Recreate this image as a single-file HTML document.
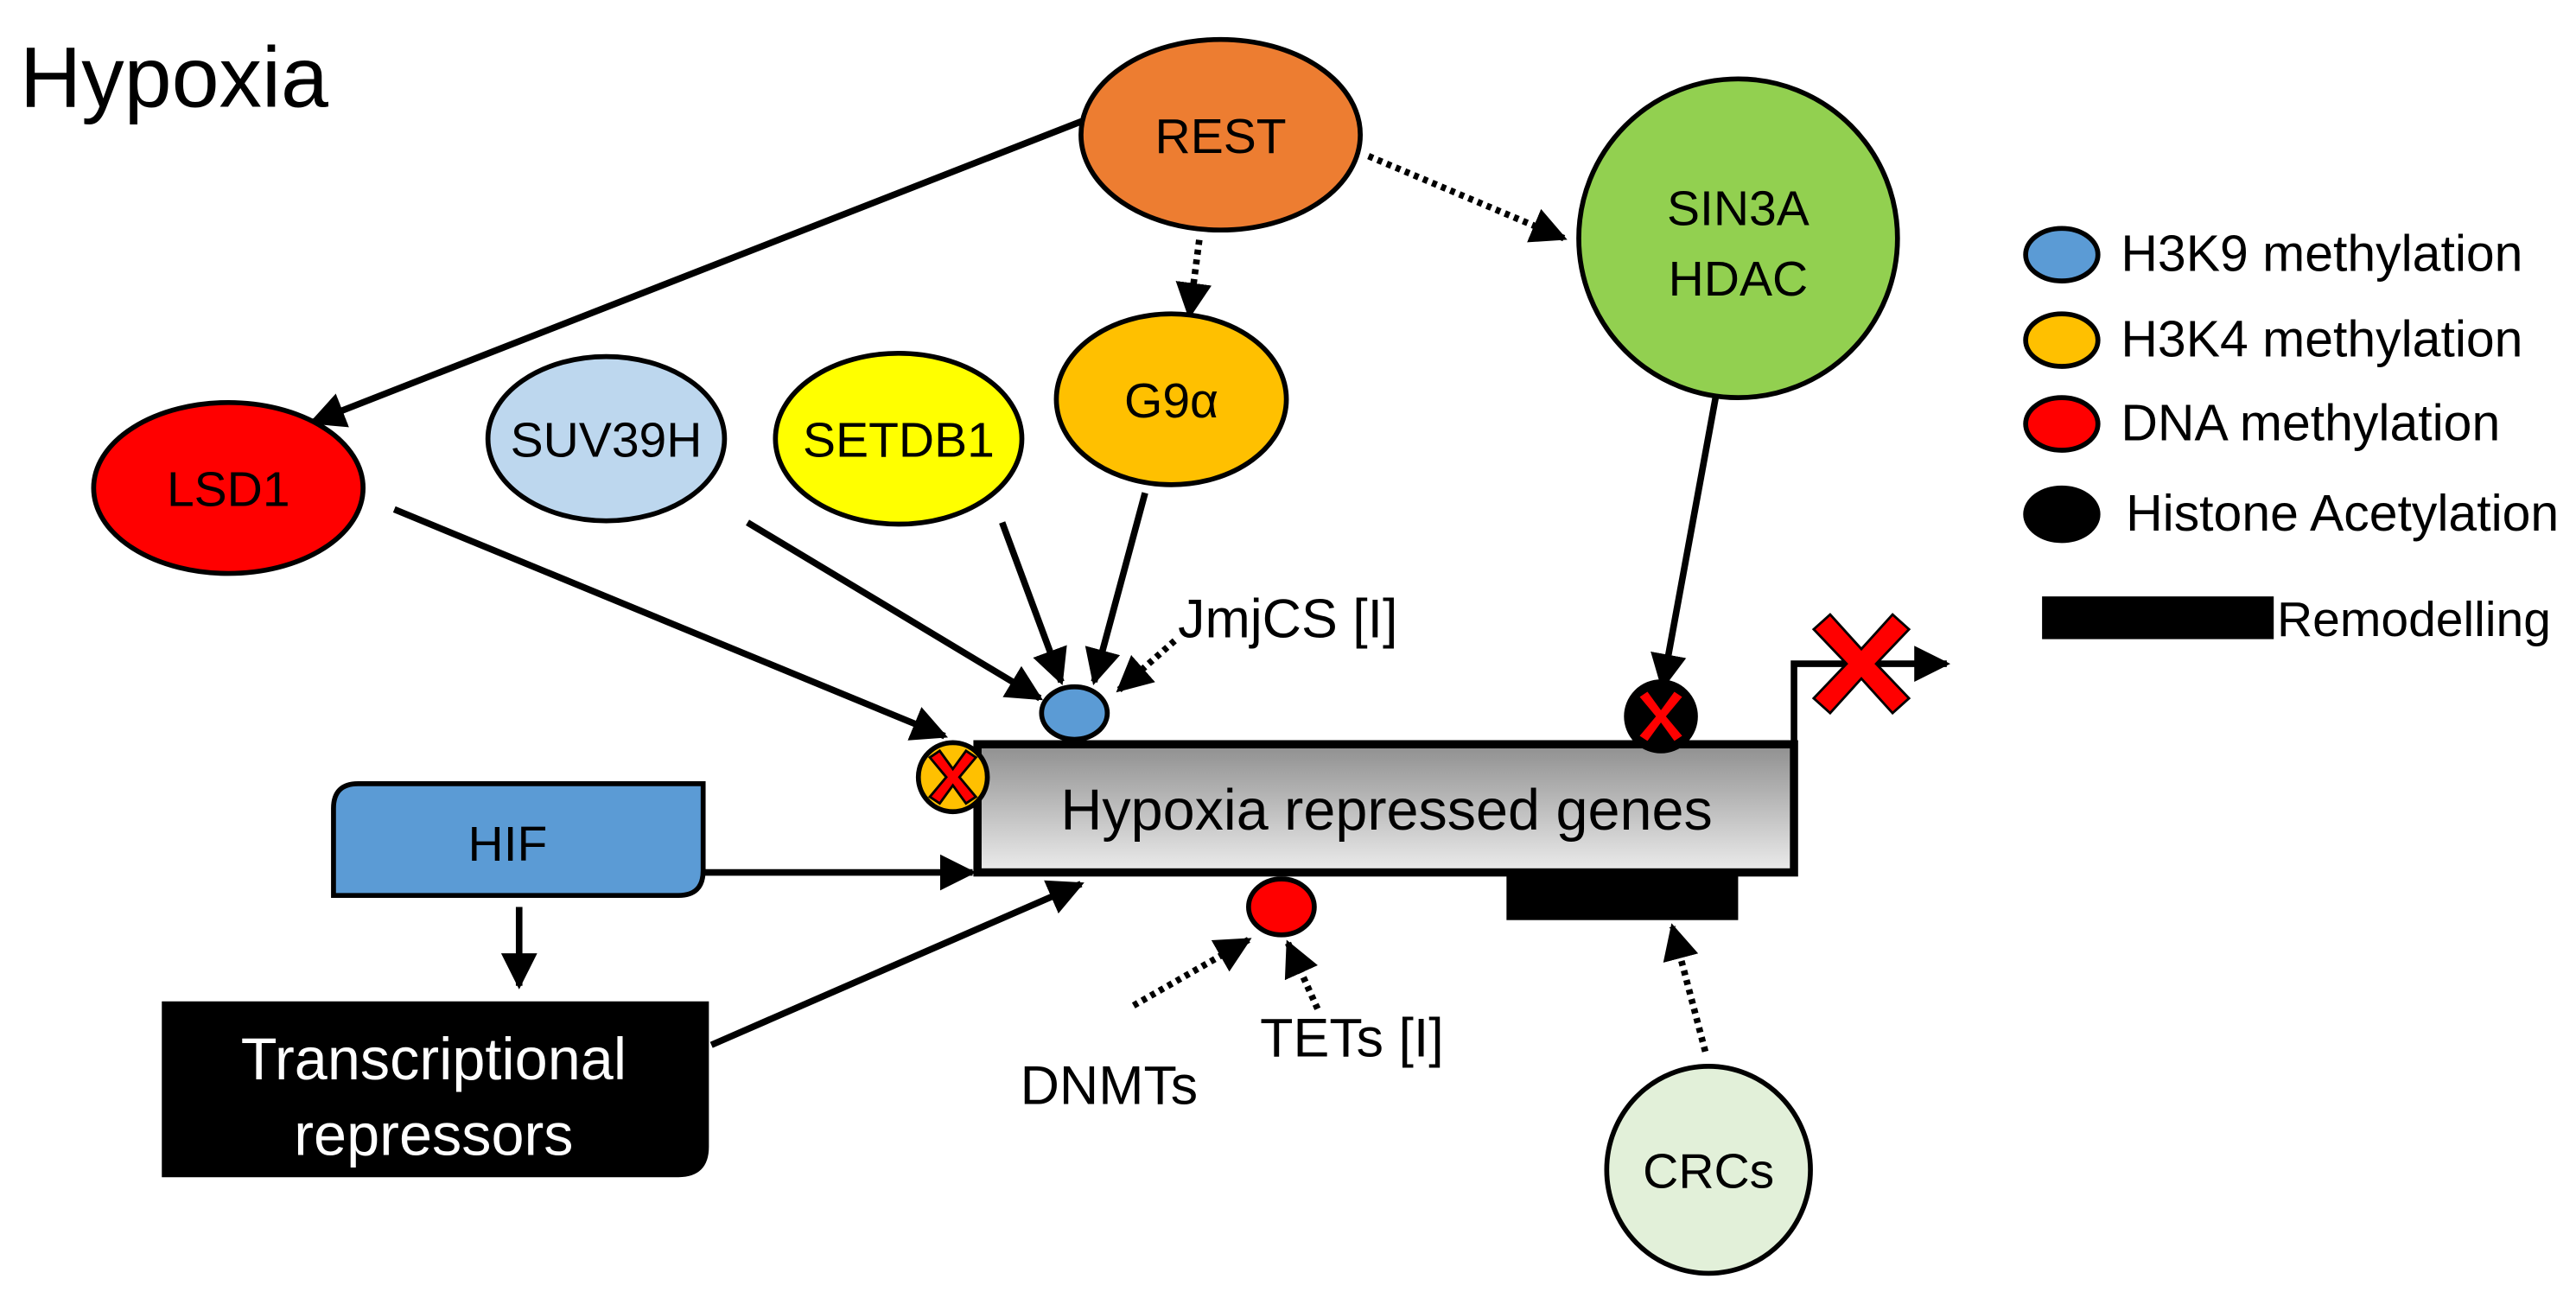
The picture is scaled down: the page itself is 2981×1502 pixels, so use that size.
<!DOCTYPE html>
<html><head><meta charset="utf-8"><style>
html,body{margin:0;padding:0;background:#fff}
svg{display:block}
text{font-family:"Liberation Sans",sans-serif;fill:#000}
</style></head><body>
<svg width="2981" height="1502" viewBox="0 0 1568 790" xmlns="http://www.w3.org/2000/svg">
<defs>
<marker id="a" viewBox="0 0 10 10" refX="9" refY="5" markerWidth="5.5" markerHeight="5.5" orient="auto" markerUnits="strokeWidth"><path d="M0,0 L10,5 L0,10 z" fill="#000"/></marker>
<linearGradient id="g" x1="0" y1="0" x2="0" y2="1"><stop offset="0" stop-color="#8f8f8f"/><stop offset="1" stop-color="#ececec"/></linearGradient>
</defs>
<text x="12" y="65" font-size="52">Hypoxia</text>

<g stroke="#000" stroke-width="4" fill="none">
<line x1="663" y1="72" x2="190" y2="257" marker-end="url(#a)"/>
<line x1="1045" y1="238" x2="1012" y2="418" marker-end="url(#a)"/>
<line x1="240" y1="310" x2="575" y2="448" marker-end="url(#a)"/>
<line x1="455" y1="318" x2="633" y2="425" marker-end="url(#a)"/>
<line x1="610" y1="318" x2="646" y2="415" marker-end="url(#a)"/>
<line x1="697" y1="300" x2="666" y2="415" marker-end="url(#a)"/>
<line x1="428" y1="531" x2="592" y2="531" marker-end="url(#a)"/>
<line x1="316" y1="552" x2="316" y2="600" marker-end="url(#a)"/>
<line x1="433" y1="636" x2="658" y2="538" marker-end="url(#a)"/>
<polyline points="1092,453 1092,404 1185,404" marker-end="url(#a)"/>
</g>
<g stroke="#000" stroke-width="4" fill="none" stroke-dasharray="3,3">
<line x1="730" y1="146" x2="724" y2="192" marker-end="url(#a)"/>
<line x1="833" y1="95" x2="952" y2="145" marker-end="url(#a)"/>
<line x1="715" y1="390" x2="681" y2="420" marker-end="url(#a)"/>
<line x1="690" y1="612" x2="760" y2="572" marker-end="url(#a)"/>
<line x1="802" y1="614" x2="784" y2="574" marker-end="url(#a)"/>
<line x1="1038" y1="640" x2="1018" y2="564" marker-end="url(#a)"/>
</g>

<g stroke="#000" stroke-width="3">
<ellipse cx="743" cy="82" rx="85" ry="58" fill="#ED7D31"/>
<ellipse cx="1058" cy="145" rx="97" ry="97" fill="#92D050"/>
<ellipse cx="139" cy="297" rx="82" ry="52" fill="#FF0000"/>
<ellipse cx="369" cy="267" rx="72" ry="50" fill="#BDD7EE"/>
<ellipse cx="547" cy="267" rx="75" ry="52" fill="#FFFF00"/>
<ellipse cx="713" cy="243" rx="70" ry="52" fill="#FFC000"/>
<ellipse cx="1040" cy="712" rx="62" ry="63" fill="#E2F0D9"/>
<path d="M218,477 H428 V530 Q428,545 413,545 H203 V492 Q203,477 218,477 Z" fill="#5B9BD5"/>
<path d="M100,611 H430 V698 Q430,715 413,715 H100 Z" fill="#000"/>
<rect x="595" y="453" width="497" height="78" fill="url(#g)" stroke-width="5"/>
<rect x="917" y="531" width="141" height="29" fill="#000" stroke="none"/>
<ellipse cx="654" cy="434" rx="20" ry="16" fill="#5B9BD5"/>
<ellipse cx="1011" cy="436" rx="21" ry="21" fill="#000"/>
<ellipse cx="580" cy="473" rx="21" ry="21" fill="#FFC000"/>
<ellipse cx="780" cy="552" rx="20" ry="17" fill="#FF0000"/>
</g>
<g stroke="#000" stroke-width="1.5" fill="#FF0000">
<path d="M572,457 L580,468 L588,457 L594,461 L584,473 L594,485 L588,489 L580,478 L572,489 L566,485 L576,473 L566,461 Z"/>
<path d="M1003,420 L1011,431 L1019,420 L1025,424 L1015,436 L1025,448 L1019,452 L1011,441 L1003,452 L997,448 L1007,436 L997,424 Z"/>
<path d="M1114,374 L1133,395 L1152,374 L1162,383 L1142,404 L1162,425 L1152,434 L1133,413 L1114,434 L1104,425 L1124,404 L1104,383 Z"/>
</g>

<g font-size="30" text-anchor="middle">
<text x="743" y="93">REST</text>
<text x="1058" y="137">SIN3A</text>
<text x="1058" y="180">HDAC</text>
<text x="139" y="308">LSD1</text>
<text x="369" y="278">SUV39H</text>
<text x="547" y="278">SETDB1</text>
<text x="713" y="254">G9α</text>
<text x="309" y="524">HIF</text>
<text x="264" y="657" font-size="36" style="fill:#fff">Transcriptional</text>
<text x="264" y="703" font-size="36" style="fill:#fff">repressors</text>
<text x="844" y="505" font-size="35">Hypoxia repressed genes</text>
<text x="1040" y="723">CRCs</text>
</g>
<g font-size="33">
<text x="717" y="388">JmjCS [I]</text>
<text x="621" y="672">DNMTs</text>
<text x="767" y="643">TETs [I]</text>
</g>

<g stroke="#000" stroke-width="3">
<ellipse cx="1255" cy="155" rx="22" ry="16" fill="#5B9BD5"/>
<ellipse cx="1255" cy="207" rx="22" ry="16" fill="#FFC000"/>
<ellipse cx="1255" cy="258" rx="22" ry="16" fill="#FF0000"/>
<ellipse cx="1255" cy="313" rx="22" ry="16" fill="#000"/>
</g>
<rect x="1243" y="363" width="141" height="26" fill="#000"/>
<g font-size="31">
<text x="1291" y="165">H3K9 methylation</text>
<text x="1291" y="217">H3K4 methylation</text>
<text x="1291" y="268">DNA methylation</text>
<text x="1294" y="323">Histone Acetylation</text>
<text x="1386" y="387" font-size="30">Remodelling</text>
</g>
</svg>
</body></html>
